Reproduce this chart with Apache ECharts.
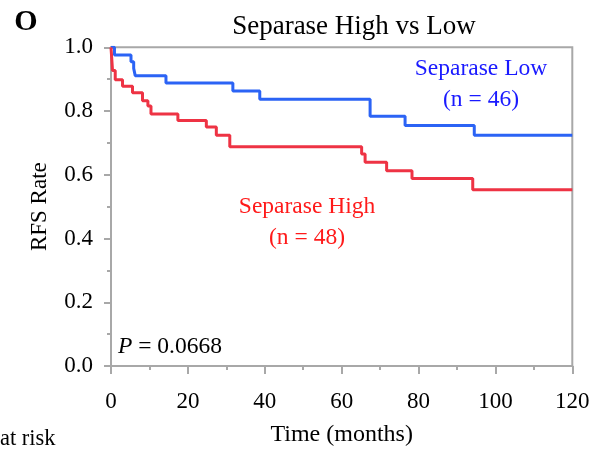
<!DOCTYPE html>
<html>
<head>
<meta charset="utf-8">
<script src="https://cdn.jsdelivr.net/npm/echarts@6/dist/echarts.min.js"></script>
<style>html,body{margin:0;padding:0;background:#fff}#c{width:602px;height:452px}</style>
</head>
<body>
<div id="c"></div>
<script>
var lowTimes = [0, 0.9, 5.2, 5.9, 6.3, 14.3, 31.7, 38.7, 67.4, 76.5, 94.5, 120];
var lowRFS   = [1.0, 0.976, 0.955, 0.934, 0.911, 0.888, 0.863, 0.837, 0.784, 0.755, 0.724, 0.724];
var highTimes = [0, 0.4, 1.1, 3.0, 5.6, 8.2, 9.6, 10.4, 17.4, 24.8, 27.4, 30.9, 65.2, 66.1, 71.7, 78.3, 94.1, 120];
var highRFS   = [1.0, 0.927, 0.898, 0.878, 0.857, 0.832, 0.816, 0.791, 0.770, 0.750, 0.724, 0.688, 0.665, 0.639, 0.613, 0.588, 0.553, 0.553];
var xTicks = [0, 20, 40, 60, 80, 100, 120];
var yTicks = [0.0, 0.2, 0.4, 0.6, 0.8, 1.0];

function pairs(t, v){ return t.map(function(x,i){ return [x, v[i]]; }); }
var serif = '"Liberation Serif", "Times New Roman", serif';
var axisGrey = '#a8a8a8';
var chart = echarts.init(document.getElementById('c'));
chart.setOption({
  animation: false,
  title: {text: 'Separase High vs Low', left: 349, textAlign: 'center', top: 8,
    textStyle: {fontFamily: serif, fontSize: 27, fontWeight: 'normal', color: '#000'}},
  grid: {left: 111, right: 29.7, top: 47.3, bottom: 79.3, show: true, borderColor: axisGrey, borderWidth: 2},
  xAxis: {type: 'value', min: 0, max: 120, interval: 20,
    name: 'Time (months)', nameLocation: 'middle', nameGap: 57,
    nameTextStyle: {fontFamily: serif, fontSize: 24, color: '#000'},
    axisLine: {lineStyle: {color: axisGrey, width: 2}},
    axisTick: {inside: false, length: 8, lineStyle: {color: axisGrey, width: 2}},
    minorTick: {show: true, splitNumber: 2, length: 4, lineStyle: {color: axisGrey, width: 2}},
    splitLine: {show: false},
    axisLabel: {margin: 24, fontFamily: serif, fontSize: 23, color: '#000',
      formatter: function(v){ return xTicks.indexOf(v) >= 0 ? String(v) : ''; }}},
  yAxis: {type: 'value', min: 0, max: 1, interval: 0.2,
    name: 'RFS Rate', nameLocation: 'middle', nameGap: 60, nameRotate: 90,
    nameTextStyle: {fontFamily: serif, fontSize: 23, color: '#000'},
    axisLine: {show: true, lineStyle: {color: axisGrey, width: 2}},
    axisTick: {show: true, inside: false, length: 7, lineStyle: {color: axisGrey, width: 2}},
    minorTick: {show: true, splitNumber: 2, length: 4, lineStyle: {color: axisGrey, width: 2}},
    splitLine: {show: false},
    axisLabel: {margin: 18, fontFamily: serif, fontSize: 23, color: '#000',
      formatter: function(v){ var r = Math.round(v*10)/10; return yTicks.indexOf(r) >= 0 ? r.toFixed(1) : ''; }}},
  series: [
    {name: 'Separase Low', type: 'line', step: 'end', showSymbol: false, data: pairs(lowTimes, lowRFS),
      lineStyle: {color: '#2b63f5', width: 3}, itemStyle: {color: '#2b63f5'}},
    {name: 'Separase High', type: 'line', step: 'end', showSymbol: false, data: pairs(highTimes, highRFS),
      lineStyle: {color: '#ee3344', width: 3}, itemStyle: {color: '#ee3344'}}
  ],
  graphic: [
    {type: 'text', x: 26, y: 22, style: {text: 'O', font: 'bold 30px ' + serif, fill: '#000', align: 'center', verticalAlign: 'middle'}},
    {type: 'text', x: 481, y: 69, style: {text: 'Separase Low', font: '23.5px ' + serif, fill: '#1a1aff', align: 'center', verticalAlign: 'middle'}},
    {type: 'text', x: 481, y: 100, style: {text: '(n = 46)', font: '23.5px ' + serif, fill: '#1a1aff', align: 'center', verticalAlign: 'middle'}},
    {type: 'text', x: 307, y: 207, style: {text: 'Separase High', font: '23.5px ' + serif, fill: '#ff1a1a', align: 'center', verticalAlign: 'middle'}},
    {type: 'text', x: 307, y: 238, style: {text: '(n = 48)', font: '23.5px ' + serif, fill: '#ff1a1a', align: 'center', verticalAlign: 'middle'}},
    {type: 'text', x: 118, y: 347, style: {text: '{i|P} = 0.0668', font: '23.5px ' + serif, fill: '#000', verticalAlign: 'middle',
      rich: {i: {fontStyle: 'italic', fontFamily: serif, fontSize: 23.5}}}},
    {type: 'text', x: 0, y: 439, style: {text: 'at risk', font: '22.5px ' + serif, fill: '#000', verticalAlign: 'middle'}}
  ]
});
</script>
</body>
</html>
